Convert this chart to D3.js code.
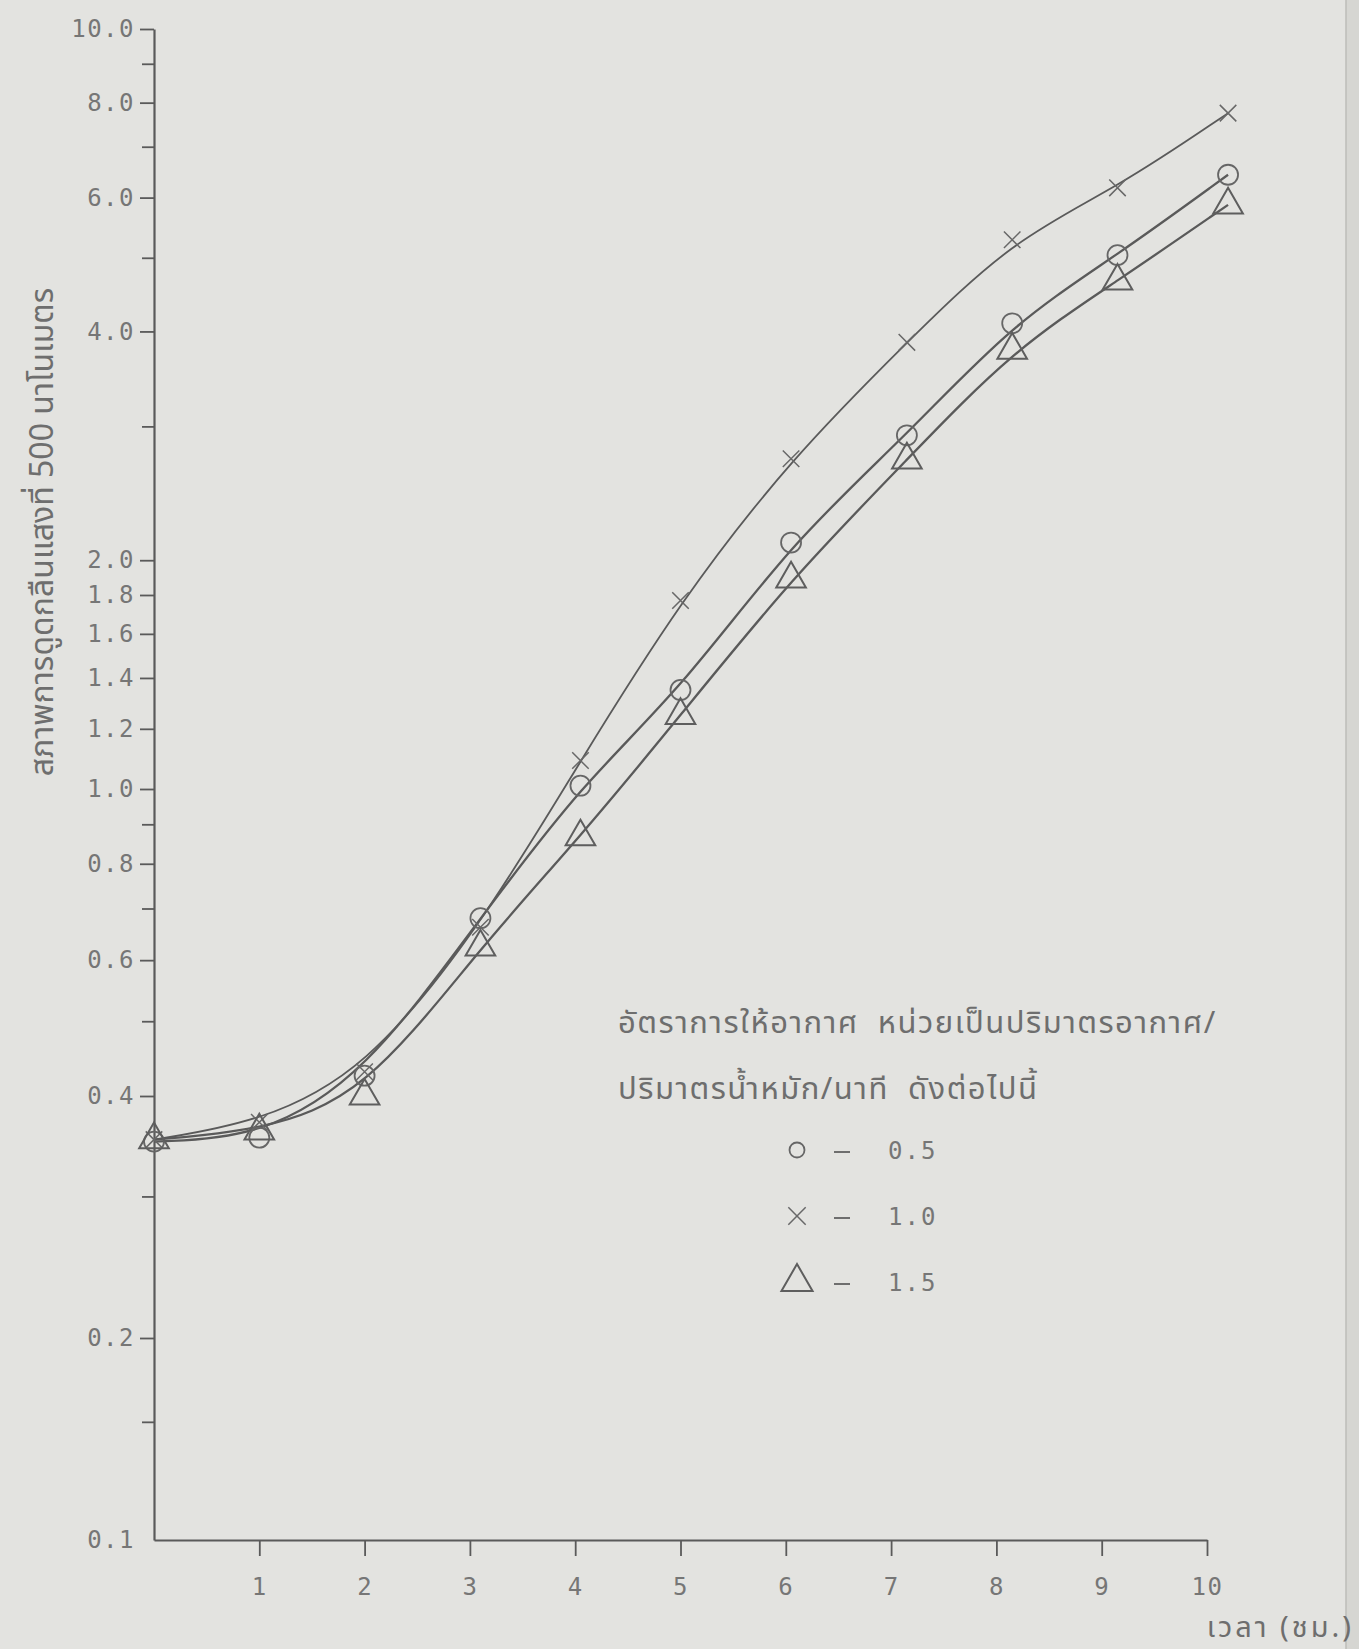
<!DOCTYPE html>
<html>
<head>
<meta charset="utf-8">
<script src="https://cdn.jsdelivr.net/npm/d3@7"></script>
<style>
  body { margin: 0; background: #e3e3e0; }
  svg { display: block; }
  .axis text { font-family: "DejaVu Sans Mono", "Liberation Mono", monospace; fill: #767676; }
  .thai { font-family: "Tlwg Typo", "TlwgTypo", "Noto Sans Thai", "Loma", "Garuda", "Noto Sans", sans-serif; fill: #6e6e6e; }
</style>
</head>
<body>
<svg width="1359" height="1649"></svg>
<script>
// values (time in hours, absorbance at 500 nm, log axis)
var hours  = [0, 1, 2, 3.1, 4.05, 5, 6.05, 7.15, 8.15, 9.15, 10.2];
var rate05 = [0.351, 0.355, 0.425, 0.68, 1.01, 1.35, 2.11, 2.92, 4.10, 5.04, 6.43];
var rate10 = [0.353, 0.371, 0.43, 0.662, 1.09, 1.77, 2.72, 3.87, 5.28, 6.18, 7.75];
var rate15 = [0.353, 0.362, 0.40, 0.624, 0.867, 1.25, 1.89, 2.71, 3.78, 4.66, 5.87];

var xTicks = [1, 2, 3, 4, 5, 6, 7, 8, 9, 10];
var yMajor = [0.1, 0.2, 0.4, 0.6, 0.8, 1.0, 1.2, 1.4, 1.6, 1.8, 2.0, 4.0, 6.0, 8.0, 10.0];
var yMinor = [0.15, 0.3, 0.5, 0.7, 0.9, 3, 5, 7, 9];

var seriesNames = ["0.5", "1.0", "1.5"];
var seriesMarks = ["circle", "cross", "triangle"];

var yTitle = "สภาพการดูดกลืนแสงที่ 500 นาโนเมตร";
var xTitle = "เวลา (ชม.)";
var legendTitle1 = "อัตราการให้อากาศ  หน่วยเป็นปริมาตรอากาศ/";
var legendTitle2 = "ปริมาตรน้ำหมัก/นาที  ดังต่อไปนี้";

var svg = d3.select("svg");
var ink = "#5a5a5a";

// hand ruled log paper is a bit uneven, so the log scale is pinned at a few ticks
var x = d3.scaleLinear().domain([0, 10]).range([154, 1207]);
var y = d3.scaleLog().domain([0.1, 0.2, 0.4, 1, 10]).range([1540, 1338, 1096, 789, 29]);

// paper edge on the right
svg.append("rect").attr("x", 1346).attr("y", 0).attr("width", 13).attr("height", 1649)
   .attr("fill", "#d6d6d2");
svg.append("line").attr("x1", 1346).attr("x2", 1346).attr("y1", 0).attr("y2", 1649)
   .attr("stroke", "#bdbdb8").attr("stroke-width", 1.5);

//axes
var yAxis = svg.append("g").attr("class", "axis")
    .attr("transform", "translate(" + x(0) + ",0)")
    .call(d3.axisLeft(y).tickValues(yMajor).tickFormat(d3.format(".1f"))
          .tickSize(14).tickSizeOuter(0).tickPadding(5));
yAxis.selectAll(".tick").filter(function(d) { return d === 0.1; }).select("line").remove();

svg.append("g").attr("class", "axis minor")
    .attr("transform", "translate(" + x(0) + ",0)")
    .call(d3.axisLeft(y).tickValues(yMinor).tickFormat("").tickSize(12).tickSizeOuter(0))
    .select(".domain").remove();

var xAxis = svg.append("g").attr("class", "axis")
    .attr("transform", "translate(0," + y(0.1) + ")")
    .call(d3.axisBottom(x).tickValues(xTicks).tickFormat(d3.format("d"))
          .tickSize(16).tickSizeOuter(0).tickPadding(22));

svg.selectAll(".axis .domain").attr("stroke", ink).attr("stroke-width", 2.2);
svg.selectAll(".axis .tick line").attr("stroke", ink).attr("stroke-width", 1.8);
svg.selectAll(".axis text").attr("font-size", 24).attr("letter-spacing", 1.5);

// titles
svg.append("text").attr("class", "thai")
   .attr("transform", "translate(53,532) rotate(-90)")
   .attr("text-anchor", "middle")
   .attr("font-size", 32)
   .text(yTitle);

svg.append("text").attr("class", "thai")
   .attr("x", 1354).attr("y", 1637)
   .attr("text-anchor", "end")
   .attr("font-size", 29)
   .attr("letter-spacing", 3)
   .text(xTitle);

// curves, smoothed like the hand drawn fit
var series = [rate05, rate10, rate15];
var line = d3.line()
    .x(function(d) { return x(d[0]); })
    .y(function(d) { return y(d[1]); })
    .curve(d3.curveBasis);

series.forEach(function(vals, i) {
    var pts = hours.map(function(h, j) { return [h, vals[j]]; });
    svg.append("path")
       .datum(pts)
       .attr("fill", "none")
       .attr("stroke", ink)
       .attr("stroke-width", i === 1 ? 1.8 : 2.3)
       .attr("d", line);
});

// markers
function drawMark(g, kind, size) {
    if (kind === "circle") {
        g.append("circle").attr("r", size * 0.5)
         .attr("fill", "none").attr("stroke", "#666").attr("stroke-width", 1.8);
    } else if (kind === "cross") {
        g.append("path").attr("d", d3.symbol().type(d3.symbolTimes).size(size * size * 0.45)())
         .attr("fill", "none").attr("stroke", "#686868").attr("stroke-width", 1.5);
    } else {
        g.append("path").attr("d", d3.symbol().type(d3.symbolTriangle).size(size * size * 0.95)())
         .attr("fill", "none").attr("stroke", "#5e5e5e").attr("stroke-width", 2);
    }
}

series.forEach(function(vals, i) {
    hours.forEach(function(h, j) {
        var g = svg.append("g")
           .attr("transform", "translate(" + x(h) + "," + y(vals[j]) + ")");
        drawMark(g, seriesMarks[i], 20);
    });
});

// legend
var legend = svg.append("g").attr("transform", "translate(618,0)");
legend.append("text").attr("class", "thai")
   .attr("x", 0).attr("y", 1033).attr("font-size", 31).attr("letter-spacing", 1.5)
   .style("white-space", "pre")
   .text(legendTitle1);
legend.append("text").attr("class", "thai")
   .attr("x", 0).attr("y", 1099).attr("font-size", 31).attr("letter-spacing", 1.5)
   .style("white-space", "pre")
   .text(legendTitle2);

seriesNames.forEach(function(name, i) {
    var yy = 1150 + i * 66;
    var g = legend.append("g").attr("transform", "translate(179," + yy + ")");
    drawMark(g, seriesMarks[i], i === 0 ? 15 : 21);
    legend.append("line")
       .attr("x1", 216).attr("x2", 232).attr("y1", yy + 2).attr("y2", yy + 2)
       .attr("stroke", "#6e6e6e").attr("stroke-width", 2);
    legend.append("text")
       .attr("x", 270).attr("y", yy + 9)
       .attr("font-family", "DejaVu Sans Mono, monospace")
       .attr("font-size", 24).attr("letter-spacing", 2)
       .attr("fill", "#767676")
       .text(name);
});
</script>
</body>
</html>
